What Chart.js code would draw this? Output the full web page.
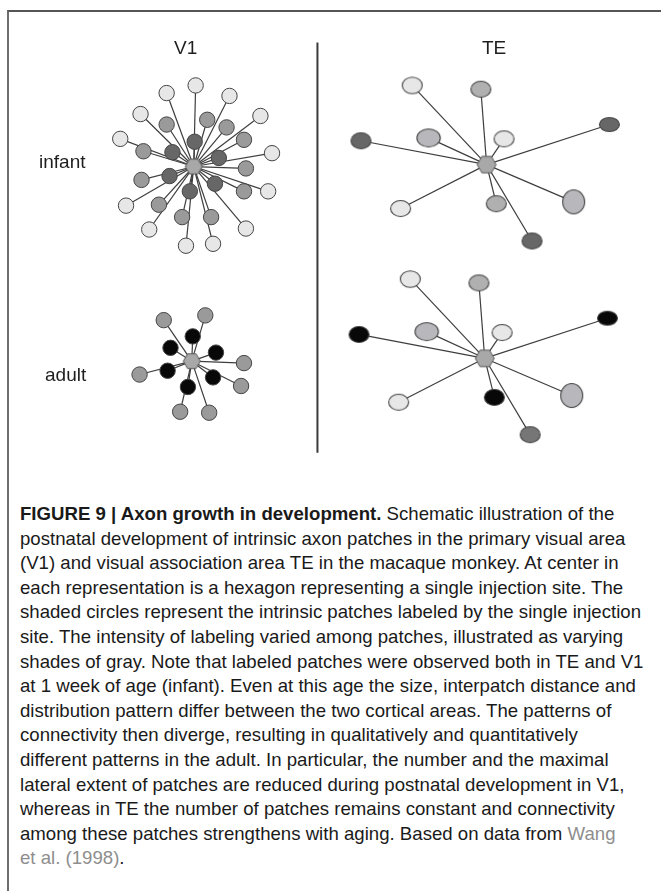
<!DOCTYPE html>
<html>
<head>
<meta charset="utf-8">
<script src="https://cdn.jsdelivr.net/npm/chart.js@4.4.1/dist/chart.umd.min.js"></script>
<style>
  html, body { margin: 0; padding: 0; background: #fff; }
  body { width: 661px; height: 891px; position: relative; overflow: hidden; }
  #frame { position: absolute; left: 7px; top: 10px; width: 700px; height: 900px;
           border-left: 2px solid #6e6e6e; border-top: 2px solid #555; }
  #diagram { position: absolute; left: 0; top: 0; }
  .lbl { position: absolute; font-family: "Liberation Sans", Arial, sans-serif; font-size: 19px;
         line-height: 19px; color: #1e1e1e; white-space: nowrap; }
  #caption { position: absolute; left: 20px; top: 502px; transform-origin: 0 0;
             font-family: "Liberation Sans", Arial, sans-serif;
             font-size: 19px; line-height: 24.6px; color: #1a1a1a; }
  #caption div { white-space: nowrap; height: 24.6px; }
  #caption b { font-weight: bold; }
  .ref { color: #8e8e8e; }
</style>
</head>
<body>
<div id="frame"></div>
<canvas id="diagram" width="661" height="480"></canvas>

<div class="lbl" style="left:174px; top:38px;">V1</div>
<div class="lbl" style="left:482px; top:38px;">TE</div>
<div class="lbl" style="left:39px; top:152px;">infant</div>
<div class="lbl" style="left:45px; top:365px;">adult</div>

<div id="caption">
  <div><b>FIGURE 9 | Axon growth in development.</b> Schematic illustration of the</div>
  <div>postnatal development of intrinsic axon patches in the primary visual area</div>
  <div>(V1) and visual association area TE in the macaque monkey. At center in</div>
  <div>each representation is a hexagon representing a single injection site. The</div>
  <div id="longest">shaded circles represent the intrinsic patches labeled by the single injection</div>
  <div>site. The intensity of labeling varied among patches, illustrated as varying</div>
  <div>shades of gray. Note that labeled patches were observed both in TE and V1</div>
  <div>at 1 week of age (infant). Even at this age the size, interpatch distance and</div>
  <div>distribution pattern differ between the two cortical areas. The patterns of</div>
  <div>connectivity then diverge, resulting in qualitatively and quantitatively</div>
  <div>different patterns in the adult. In particular, the number and the maximal</div>
  <div>lateral extent of patches are reduced during postnatal development in V1,</div>
  <div>whereas in TE the number of patches remains constant and connectivity</div>
  <div>among these patches strengthens with aging. Based on data from <span class="ref">Wang</span></div>
  <div><span class="ref">et al. (1998)</span>.</div>
</div>

<script>
// injection sites (hexagons), one per panel
const panels = ['V1 infant', 'V1 adult', 'TE infant', 'TE adult'];
const siteX = [189, 187, 492, 490];
const siteY = [163, 367, 161, 364];

// patch offsets from the injection site, and labeling intensity
const v1InfantDx = [2, -28, 37, -55, 69, -76, 81, 77, -70, -46, 54, -8, 20,
                    -28, 14, 34, 52, -52, 54, -54, 52, -36, -12, 18,
                    1, -22, 26, -25, 22, -4];
const v1InfantDy = [-85, -77, -74, -55, -53, -29, -14, 26, 41, 66, 65, 83, 81,
                    -44, -49, -41, -28, -16, 2, 14, 26, 40, 53, 53,
                    -26, -15, -9, 10, 18, 26];
const v1InfantShade = ['light', 'light', 'light', 'light', 'light', 'light', 'light', 'light', 'light', 'light', 'light', 'light', 'light',
                       'mid', 'mid', 'mid', 'mid', 'mid', 'mid', 'mid', 'mid', 'mid', 'mid', 'mid',
                       'dark', 'dark', 'dark', 'dark', 'dark', 'dark'];

const v1AdultDx = [-29, 14, 54, -54, 51, -12, 18, 1, -22, 25, -25, 22, -4];
const v1AdultDy = [-43, -48, 2, 14, 26, 53, 54, -26, -14, -9, 10, 17, 27];
const v1AdultShade = ['mid', 'mid', 'mid', 'mid', 'mid', 'mid', 'mid',
                      'black', 'black', 'black', 'black', 'black', 'black'];

// TE patches are ellipses: half width / half height
const teDx = [-77, -6, 127, -130, -60, 18, -89, 10, 90, 47];
const teDy = [-83, -79, -42, -25, -28, -27, 46, 41, 39, 80];
const teRx = [10, 10, 10, 10, 11.7, 10, 10, 10, 11, 10];
const teRy = [8.3, 8, 7, 8, 9, 8, 8, 8, 12, 8];
const teInfantShade = ['light', 'mid', 'dark', 'dark', 'pale', 'light', 'light', 'mid', 'pale', 'dark'];
const teAdultShade  = ['light', 'mid', 'black', 'black', 'pale', 'light', 'light', 'black', 'pale', 'grey'];

const shadeColor = {
  light: '#e7e7e7', pale: '#b8b8bc', mid: '#9a9a9a', grey: '#767676', dark: '#676767', black: '#080808'
};
const teShadeColor = Object.assign({}, shadeColor, { mid: '#b0b0b0' });

function ellipseImg(rx, ry, fill) {
  const c = document.createElement('canvas');
  c.width = Math.ceil(rx * 2 + 3);
  c.height = Math.ceil(ry * 2 + 3);
  const g = c.getContext('2d');
  g.beginPath();
  g.ellipse(c.width / 2, c.height / 2, rx, ry, 0, 0, Math.PI * 2);
  g.fillStyle = fill;
  g.fill();
  g.lineWidth = 1.1;
  g.strokeStyle = '#454545';
  g.stroke();
  return c;
}

function hexImg(r) {
  const c = document.createElement('canvas');
  c.width = c.height = Math.ceil(r * 2 + 3);
  const g = c.getContext('2d');
  g.beginPath();
  for (let k = 0; k < 6; k++) {
    const a = k * Math.PI / 3;
    const px = c.width / 2 + r * Math.cos(a), py = c.height / 2 + r * Math.sin(a);
    k ? g.lineTo(px, py) : g.moveTo(px, py);
  }
  g.closePath();
  g.fillStyle = '#a8a8a8';
  g.fill();
  g.lineWidth = 1;
  g.strokeStyle = '#5a5a5a';
  g.stroke();
  return c;
}

const datasets = [];

// hexagons on top
datasets.push({
  label: 'injection sites',
  data: siteX.map((x, i) => ({ x: x, y: siteY[i] })),
  pointStyle: siteX.map((x, i) => hexImg(i < 2 ? 8.5 : 9.5)),
  pointRadius: 9,
  order: 0
});

function addPanel(p, dx, dy, shade, rx, ry, colors) {
  const pts = dx.map((d, i) => ({ x: siteX[p] + d, y: siteY[p] + dy[i] }));
  if (rx) {
    datasets.push({
      label: panels[p],
      data: pts,
      pointStyle: pts.map((pt, i) => ellipseImg(rx[i], ry[i], colors[shade[i]])),
      pointRadius: 10,
      order: 1
    });
  } else {
    datasets.push({
      label: panels[p],
      data: pts,
      pointStyle: 'circle',
      pointRadius: 7.7,
      pointBackgroundColor: shade.map(s => colors[s]),
      pointBorderColor: '#454545',
      pointBorderWidth: 1,
      order: 1
    });
  }
  // spokes from the injection site to each patch
  pts.forEach(pt => {
    datasets.push({
      data: [{ x: siteX[p], y: siteY[p] }, pt],
      showLine: true,
      borderColor: '#3e3e3e',
      borderWidth: 1.2,
      pointRadius: 0,
      order: 2
    });
  });
}

addPanel(0, v1InfantDx, v1InfantDy, v1InfantShade, null, null, shadeColor);
addPanel(1, v1AdultDx, v1AdultDy, v1AdultShade, null, null, shadeColor);
addPanel(2, teDx, teDy, teInfantShade, teRx, teRy, teShadeColor);
addPanel(3, teDx, teDy, teAdultShade, teRx, teRy, teShadeColor);

// divider between V1 and TE
datasets.push({
  data: [{ x: 317, y: 33 }, { x: 317, y: 463 }],
  showLine: true,
  borderColor: '#3a3a3a',
  borderWidth: 2,
  pointRadius: 0,
  order: 3
});

new Chart(document.getElementById('diagram').getContext('2d'), {
  type: 'scatter',
  data: { datasets: datasets },
  options: {
    responsive: false,
    animation: false,
    events: [],
    layout: { padding: 0 },
    plugins: { legend: { display: false }, tooltip: { enabled: false } },
    scales: {
      x: { type: 'linear', min: 0, max: 661, display: false },
      y: { type: 'linear', min: 0, max: 480, reverse: true, display: false }
    }
  }
});

// squeeze the caption so its longest line spans the same width as the original
const cap = document.getElementById('caption');
const range = document.createRange();
range.selectNodeContents(document.getElementById('longest'));
const natural = range.getBoundingClientRect().width;
cap.style.transform = 'scaleX(' + (621 / natural) + ')';
</script>
</body>
</html>
